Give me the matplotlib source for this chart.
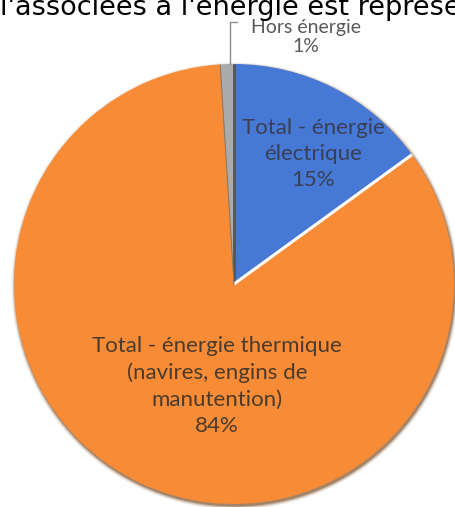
import matplotlib
matplotlib.use("Agg")
import numpy as np
import matplotlib.pyplot as plt
from matplotlib.patches import Ellipse

# --- data ---
categories = ["Hors énergie", "Total - énergie\nélectrique",
              "Total - énergie thermique\n(navires, engins de\nmanutention)"]
shares = [1, 15, 84]
colors = ["#ABABAB", "#4678D6", "#F88B36"]

W, H = 456, 507
CX, CY, R = 234, 284, 220


def py(y):
    # pixel rows from the top -> data y
    return H - y


fig = plt.figure(figsize=(W / 100, H / 100), dpi=100)
ax = fig.add_axes([0, 0, 1, 1])

# darker rim / shadow under the pie
for k, a in [(7, 0.08), (5, 0.14), (3, 0.25), (1, 0.45)]:
    ax.add_patch(Ellipse((CX + 1, py(CY) - 2), 2 * R + k, 2 * R + k,
                         facecolor="#7a4a22", edgecolor="none", alpha=a, zorder=1))

start = 90 + shares[0] * 3.6
wedges, _ = ax.pie(shares, colors=colors, startangle=start,
                   counterclock=False, center=(CX, py(CY)), radius=R,
                   wedgeprops=dict(edgecolor="none"), frame=True)
for w in wedges:
    w.set_zorder(2)

# separators between slices
bounds = start - np.cumsum([0] + shares) * 3.6
for ang, col, lw in [(bounds[1], "#555555", 2.0), (bounds[2], "white", 2.2),
                     (bounds[0], "#8a7a6a", 0.8)]:
    t = np.deg2rad(ang)
    ax.plot([CX, CX + R * np.cos(t)], [py(CY), py(CY) + R * np.sin(t)],
            color=col, lw=lw, zorder=3, solid_capstyle="butt")

ax.set_xlim(0, W)
ax.set_ylim(0, H)
ax.set_aspect("equal")
ax.axis("off")

lab_font = dict(family=["Lato", "DejaVu Sans"], ha="center", va="center", zorder=5)

# small slice label with leader line
ax.plot([230, 230, 237], [py(64), py(22), py(22)], color="#8c8c8c", lw=1, zorder=4)
ax.text(306, py(37), f"{categories[0]}\n{shares[0]}%", fontsize=14,
        color="#595959", linespacing=1.15, **lab_font)

ax.text(313, py(154), f"{categories[1]}\n{shares[1]}%", fontsize=16,
        color="#3a3f55", linespacing=1.35, **lab_font)
ax.text(217, py(386), f"{categories[2]}\n{shares[2]}%", fontsize=16,
        color="#4a3b2c", linespacing=1.38, **lab_font)

# clipped line of surrounding text
ax.text(0, py(15), "l'associées à l'énergie est représentée", fontsize=19.5,
        family="DejaVu Sans", color="black", ha="left", va="baseline", zorder=6)

fig.savefig("out.png", dpi=100)
